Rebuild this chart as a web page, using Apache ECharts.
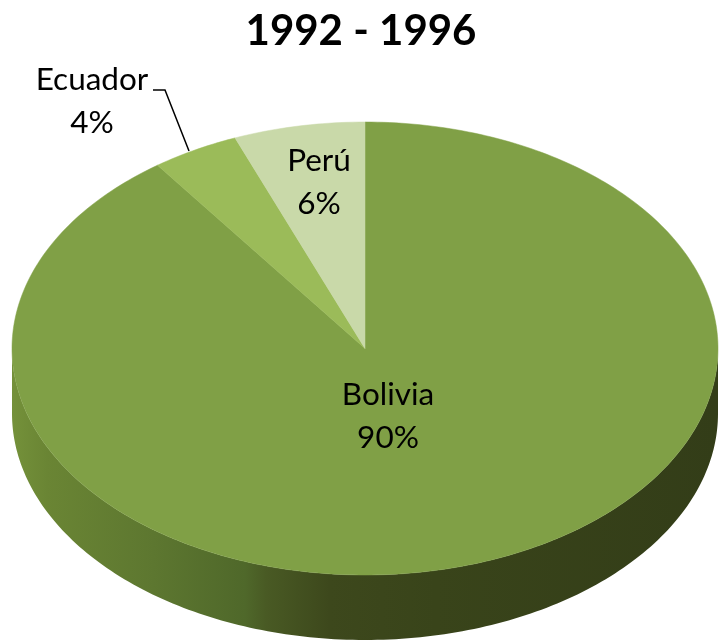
<!DOCTYPE html>
<html>
<head>
<meta charset="utf-8">
<style>html,body{margin:0;padding:0;background:#fff}#c{width:721px;height:643px}</style>
<script src="https://cdn.jsdelivr.net/npm/echarts@6/dist/echarts.min.js"></script>
</head>
<body>
<div id="c"></div>
<script>
const titleText = '1992 - 1996';
const categories = ['Bolivia', 'Ecuador', 'Perú'];
const values = [90, 4, 6];
const colors = ['#80a046', '#9bbb59', '#c9d9a9'];
const labelCenters = [[388, 416], [92, 101], [319, 182]];
const leader = [[153, 90], [165, 90], [189, 151]];
const CX = 365, CY = 348.5, RX = 353, RY = 226.5, DEPTH = 65;
const FONT = 'Lato, Carlito, "Open Sans", sans-serif';
const total = values.reduce((a, b) => a + b, 0);

function pt(deg, dy) {
  const t = deg * Math.PI / 180;
  return [CX + RX * Math.sin(t), CY - RY * Math.cos(t) + (dy || 0)];
}
function arc(a0, a1, dy) {
  const n = Math.max(2, Math.ceil(Math.abs(a1 - a0) / 1));
  const out = [];
  for (let i = 0; i <= n; i++) out.push(pt(a0 + (a1 - a0) * i / n, dy));
  return out;
}
const sideFill = new echarts.graphic.LinearGradient(0, 0, 1, 0, [
  { offset: 0, color: '#74913a' },
  { offset: 0.05, color: '#6a8534' },
  { offset: 0.2, color: '#5d7730' },
  { offset: 0.33, color: '#4f682a' },
  { offset: 0.36, color: '#495a24' },
  { offset: 0.45, color: '#3d481c' },
  { offset: 0.6, color: '#39441a' },
  { offset: 1, color: '#333d18' }
]);

function renderItem(params, api) {
  const i = params.dataIndex;
  let start = 0;
  for (let k = 0; k < i; k++) start += values[k];
  const a0 = start / total * 360;
  const a1 = (start + api.value(0)) / total * 360;
  const children = [];
  const s0 = Math.max(a0, 90), s1 = Math.min(a1, 270);
  if (s1 > s0) {
    children.push({
      type: 'polygon',
      z2: 1,
      shape: { points: arc(s0, s1, 0).concat(arc(s1, s0, DEPTH)) },
      style: { fill: sideFill, stroke: null }
    });
  }
  children.push({
    type: 'polygon',
    z2: 2,
    shape: { points: [[CX, CY]].concat(arc(a0, a1, 0)) },
    style: { fill: colors[i], stroke: colors[i], lineWidth: 0.5 }
  });
  const pct = Math.round(api.value(0) / total * 100) + '%';
  children.push({
    type: 'text',
    z2: 5,
    style: {
      x: labelCenters[i][0], y: labelCenters[i][1],
      text: categories[i] + '\n' + pct,
      fill: '#000', font: '31.5px ' + FONT,
      lineHeight: 43, align: 'center', verticalAlign: 'middle'
    }
  });
  if (i === 1) {
    children.push({
      type: 'polyline',
      z2: 5,
      shape: { points: leader },
      style: { stroke: '#000', lineWidth: 1.5, fill: null }
    });
  }
  return { type: 'group', children };
}

const chart = echarts.init(document.getElementById('c'), null, { renderer: 'canvas' });
chart.setOption({
  animation: false,
  backgroundColor: '#fff',
  title: {
    text: titleText, left: 356, top: 5, textAlign: 'center',
    textStyle: { fontFamily: FONT, fontWeight: 'bold', fontSize: 42, color: '#000' }
  },
  series: [{
    type: 'custom',
    coordinateSystem: 'none',
    renderItem,
    data: categories.map((name, i) => ({ name, value: [values[i]] }))
  }]
});
</script>
</body>
</html>
